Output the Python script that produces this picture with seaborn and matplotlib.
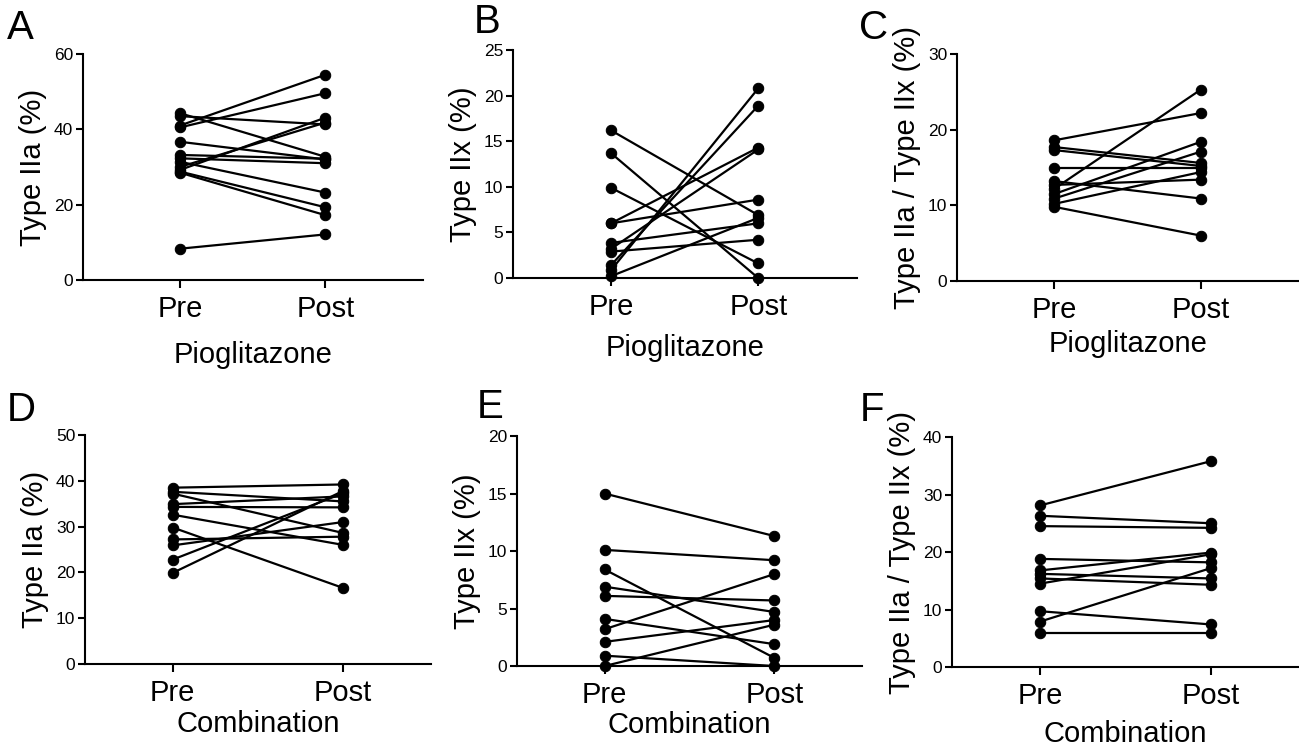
import numpy as np
import pandas as pd
import seaborn as sns
import matplotlib.pyplot as plt

sns.set_style("ticks")
plt.rcParams['font.family'] = ['Liberation Sans', 'DejaVu Sans']
plt.rcParams['text.color'] = 'black'
plt.rcParams['axes.labelcolor'] = 'black'
plt.rcParams['xtick.color'] = 'black'
plt.rcParams['ytick.color'] = 'black'
plt.rcParams['axes.edgecolor'] = 'black'

# paired values, one entry per subject (pre, post)
a_pre = [41.0, 40.5, 44.3, 43.5, 36.7, 33.2, 32.3, 31.4, 28.8, 28.5, 29.2, 30.0, 8.3]
a_post = [54.5, 49.6, 32.7, 41.3, 32.0, 32.2, 31.0, 23.2, 19.3, 17.2, 43.1, 41.8, 12.1]

b_pre = [16.2, 13.7, 9.9, 6.0, 6.0, 3.85, 3.2, 2.9, 1.4, 0.85, 0.2]
b_post = [6.9, 0.0, 1.6, 14.3, 8.6, 6.0, 14.1, 4.2, 18.9, 20.8, 6.6]

c_pre = [18.6, 17.7, 17.3, 14.9, 13.2, 12.7, 12.2, 11.5, 10.9, 10.2, 9.8]
c_post = [22.2, 15.6, 15.2, 14.9, 10.9, 13.4, 25.3, 18.4, 17.1, 14.4, 6.0]

d_pre = [38.5, 37.6, 37.2, 34.9, 34.3, 32.6, 29.8, 27.2, 25.9, 22.8, 19.9]
d_post = [39.2, 35.5, 28.6, 36.6, 34.2, 26.0, 16.6, 27.8, 31.0, 37.3, 37.8]

e_pre = [15.0, 10.1, 8.4, 6.9, 6.1, 4.1, 3.2, 2.1, 0.9, 0.0]
e_post = [11.3, 9.2, 0.7, 4.7, 5.7, 1.9, 8.0, 4.0, 0.0, 3.6]

f_pre = [28.1, 26.3, 24.5, 18.8, 16.8, 14.5, 16.2, 15.4, 9.7, 7.9, 5.9]
f_post = [35.8, 25.0, 24.2, 18.2, 19.9, 19.6, 15.4, 14.3, 7.4, 17.2, 5.9]

time_labels = ['Pre', 'Post']
letters = ['A', 'B', 'C', 'D', 'E', 'F']
ylabels = ['Type IIa (%)', 'Type IIx (%)', 'Type IIa / Type IIx (%)'] * 2
xlabels = ['Pioglitazone'] * 3 + ['Combination'] * 3
ymax = [60, 25, 30, 50, 20, 40]
ystep = [20, 5, 10, 10, 5, 10]

panels = [(a_pre, a_post), (b_pre, b_post), (c_pre, c_post),
          (d_pre, d_post), (e_pre, e_post), (f_pre, f_post)]

# axes rectangles (fig fractions) and layout tweaks
rects = [[0.0639, 0.6247, 0.2617, 0.3029],
         [0.3949, 0.6273, 0.2648, 0.3056],
         [0.7367, 0.6233, 0.2633, 0.3043],
         [0.0654, 0.1099, 0.2664, 0.3070],
         [0.3980, 0.1072, 0.2656, 0.3083],
         [0.7329, 0.1059, 0.2671, 0.3083]]
xlims = [(-0.665, 1.67)] * 3 + [(-0.515, 1.515)] * 3
xlab_pad = [13, 9, 4, 2, 1, 7]
letter_pos = [(0.005, 0.988), (0.365, 0.996), (0.661, 0.988),
              (0.005, 0.476), (0.367, 0.480), (0.662, 0.476)]

fig = plt.figure(figsize=(12.99, 7.46), dpi=100)

for i, (pre, post) in enumerate(panels):
    ax = fig.add_axes(rects[i])
    n = len(pre)
    df = pd.DataFrame({
        'subject': list(range(n)) * 2,
        'time': [0] * n + [1] * n,
        'value': list(pre) + list(post),
    })
    sns.lineplot(data=df, x='time', y='value', units='subject', estimator=None,
                 color='black', linewidth=1.6, marker='o', markersize=7.5,
                 markeredgecolor='black', ax=ax, clip_on=False, zorder=3)
    ax.set_xlim(*xlims[i])
    ax.set_ylim(0, ymax[i])
    ax.set_yticks(np.arange(0, ymax[i] + 1, ystep[i]))
    ax.set_xticks([0, 1])
    ax.set_xticklabels(time_labels, fontsize=21)
    ax.tick_params(axis='y', labelsize=12.5, width=1.5, length=5, pad=2)
    ax.tick_params(axis='x', width=1.5, length=6, pad=5)
    ax.set_ylabel(ylabels[i], fontsize=21, labelpad=5)
    ax.set_xlabel(xlabels[i], fontsize=21, labelpad=xlab_pad[i])
    for side in ['left', 'bottom']:
        ax.spines[side].set_linewidth(1.5)
    sns.despine(ax=ax)
    fig.text(letter_pos[i][0], letter_pos[i][1], letters[i], fontsize=29,
             ha='left', va='top')

fig.savefig('out.png', dpi=100)
